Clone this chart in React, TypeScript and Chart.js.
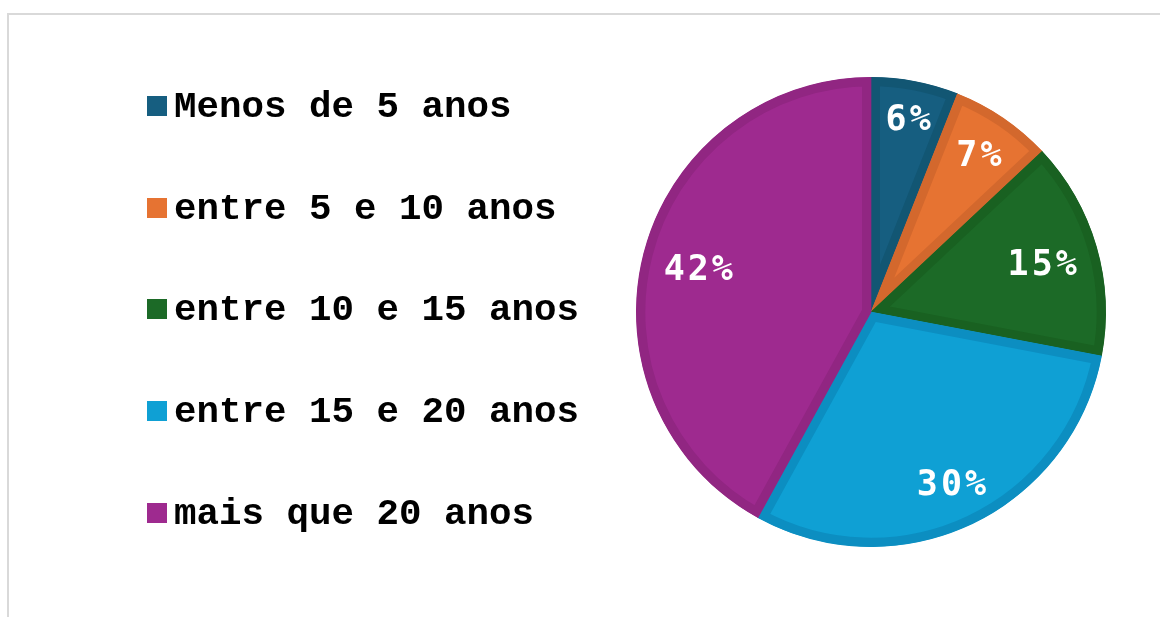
import React, { useEffect, useRef } from "react";
import { Chart, registerables } from "chart.js";

Chart.register(...registerables);

const categories = [
  "Menos de 5 anos",
  "entre 5 e 10 anos",
  "entre 10 e 15 anos",
  "entre 15 e 20 anos",
  "mais que 20 anos",
];
const shares = [6, 7, 15, 30, 42];
const fillColors = ["#165E80", "#E67332", "#1C6A27", "#0FA0D4", "#9E2A8F"];
const edgeColors = ["#125673", "#D3682D", "#196121", "#0C8EC1", "#912682"];

const sideLegend = {
  id: "sideLegend",
  afterDraw(chart: any) {
    const ctx = chart.ctx;
    const labels = chart.data.labels as string[];
    const ds = chart.data.datasets[0];
    ctx.save();
    ctx.font = "bold 37.5px 'Liberation Mono', 'Courier New', monospace";
    ctx.textAlign = "left";
    ctx.textBaseline = "alphabetic";
    labels.forEach((lab, i) => {
      const cy = 106 + i * 101.7;
      ctx.fillStyle = ds.backgroundColor[i];
      ctx.fillRect(147, Math.round(cy - 10), 20, 20);
      ctx.fillStyle = "#000000";
      ctx.fillText(lab, 174, cy + 11);
    });
    ctx.restore();
  },
};

const pctLabels = {
  id: "pctLabels",
  afterDatasetsDraw(chart: any) {
    const meta = chart.getDatasetMeta(0);
    const ctx = chart.ctx;
    const values = chart.data.datasets[0].data as number[];
    const spacing = 3;
    ctx.save();
    ctx.font = "bold 35px 'DejaVu Sans Mono', monospace";
    (ctx as any).letterSpacing = spacing + "px";
    ctx.fillStyle = "#ffffff";
    ctx.textAlign = "left";
    ctx.textBaseline = "alphabetic";
    meta.data.forEach((arc: any, i: number) => {
      const { x, y, startAngle, endAngle, outerRadius } = arc.getProps(
        ["x", "y", "startAngle", "endAngle", "outerRadius"],
        true
      );
      const mid = (startAngle + endAngle) / 2;
      const text = values[i] + "%";
      const w = ctx.measureText(text).width - spacing;
      const h = 25;
      const ux = Math.cos(mid);
      const uy = Math.sin(mid);
      const d = outerRadius - 20 - (Math.abs(ux) * w) / 2 - (Math.abs(uy) * h) / 2;
      const cx = x + ux * d;
      const cy = y + uy * d;
      ctx.fillText(text, cx - w / 2, cy + h / 2);
    });
    ctx.restore();
  },
};

export default function App() {
  const ref = useRef<HTMLCanvasElement | null>(null);

  useEffect(() => {
    if (!ref.current) return;
    const chart = new Chart(ref.current, {
      type: "pie",
      data: {
        labels: categories,
        datasets: [
          {
            data: shares,
            backgroundColor: fillColors,
            borderColor: edgeColors,
            borderWidth: 9,
            borderAlign: "inner",
            hoverOffset: 0,
            offset: 0,
          } as any,
        ],
      },
      options: {
        responsive: false,
        animation: false,
        events: [],
        layout: { padding: { left: 636, right: 54, top: 77, bottom: 70 } },
        plugins: {
          legend: { display: false },
          tooltip: { enabled: false },
        },
      },
      plugins: [sideLegend, pctLabels],
    });
    return () => chart.destroy();
  }, []);

  return (
    <>
      <div
        style={{
          position: "absolute",
          left: 7,
          top: 13,
          width: 1153,
          height: 604,
          boxSizing: "border-box",
          borderTop: "2px solid #d9d9d9",
          borderLeft: "2px solid #d9d9d9",
        }}
      />
      <canvas
        ref={ref}
        width={1160}
        height={617}
        style={{ position: "absolute", left: 0, top: 0, display: "block" }}
      />
    </>
  );
}
